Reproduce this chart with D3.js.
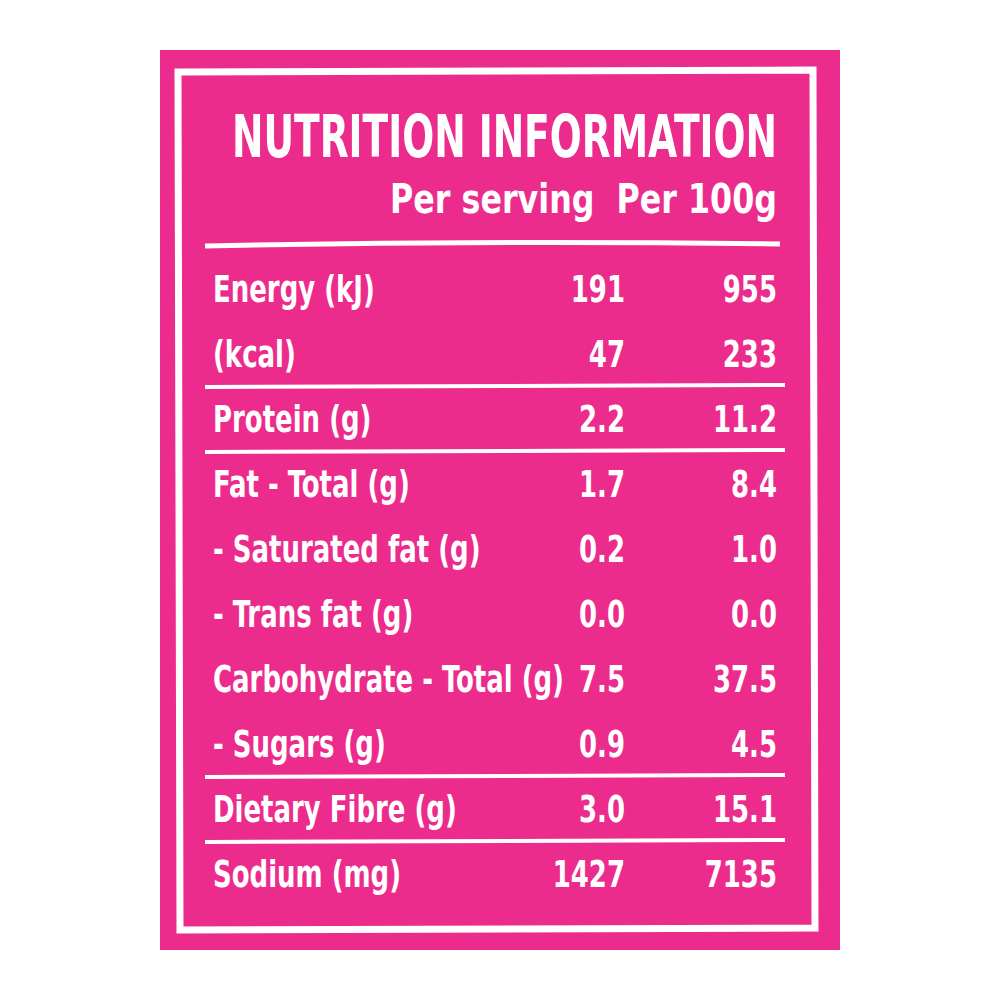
<!DOCTYPE html>
<html><head><meta charset="utf-8">
<script src="https://cdn.jsdelivr.net/npm/d3@7"></script>
<style>body{margin:0;background:#fff}</style>
</head><body>
<div id="chart"></div>
<script>
// data
var nutrients = ["Energy (kJ)", "(kcal)", "Protein (g)", "Fat - Total (g)", "- Saturated fat (g)",
  "- Trans fat (g)", "Carbohydrate - Total (g)", "- Sugars (g)", "Dietary Fibre (g)", "Sodium (mg)"];
var perServing = ["191", "47", "2.2", "1.7", "0.2", "0.0", "7.5", "0.9", "3.0", "1427"];
var per100g = ["955", "233", "11.2", "8.4", "1.0", "0.0", "37.5", "4.5", "15.1", "7135"];
var columns = ["Per serving", "Per 100g"];
// rows that get a rule below them
var ruleAfter = ["(kcal)", "Protein (g)", "- Sugars (g)", "Dietary Fibre (g)"];

var pink = "#ec2c8c";
var font = "'DejaVu Sans Condensed', 'DejaVu Sans', sans-serif";
var squeeze = 0.76;

var svg = d3.select("#chart").append("svg")
  .attr("width", 1000).attr("height", 1000);

svg.append("rect").attr("x", 160).attr("y", 50).attr("width", 680).attr("height", 900)
  .attr("fill", pink);

// hand-drawn frame
svg.append("path")
  .attr("d", "M178,72 L813,70 L815,928 L180,930 Z")
  .attr("fill", "none").attr("stroke", "#fff").attr("stroke-width", 7);

svg.append("text").attr("x", 232).attr("y", 157)
  .attr("font-family", font).attr("font-weight", "bold").attr("font-size", 58)
  .attr("textLength", 545).attr("lengthAdjust", "spacingAndGlyphs")
  .attr("fill", "#fff").text("NUTRITION INFORMATION");

var y = d3.scaleBand().domain(nutrients).range([255, 905]);
var x = d3.scaleOrdinal().domain(columns).range([625, 777]);

svg.append("text").attr("x", 390).attr("y", 213)
  .attr("font-family", font).attr("font-weight", "bold").attr("font-size", 40)
  .attr("textLength", 387).attr("lengthAdjust", "spacingAndGlyphs")
  .attr("fill", "#fff").attr("xml:space", "preserve").text(columns.join("  "));

svg.append("path").attr("d", "M205,246 Q490,240 780,244")
  .attr("stroke", "#fff").attr("stroke-width", 5).attr("fill", "none");

var rows = svg.append("g").selectAll("g").data(nutrients).enter().append("g")
  .attr("transform", function (d) { return "translate(0," + (y(d) + y.bandwidth() / 2 + 14) + ")"; })
  .attr("font-family", font).attr("font-weight", "bold").attr("font-size", 38).attr("fill", "#fff");

function cell(sel, px, anchor, fn) {
  sel.append("text")
    .attr("transform", "translate(" + px + ",0) scale(" + squeeze + ",1)")
    .attr("text-anchor", anchor).text(fn);
}
cell(rows, 213, "start", function (d) { return d; });
cell(rows, x(columns[0]), "end", function (d, i) { return perServing[i]; });
cell(rows, x(columns[1]), "end", function (d, i) { return per100g[i]; });

svg.append("g").selectAll("path").data(ruleAfter).enter().append("path")
  .attr("d", function (d) { var yy = y(d) + y.bandwidth() + 2; return "M205," + yy + " L785," + (yy - 2); })
  .attr("stroke", "#fff").attr("stroke-width", 4).attr("fill", "none");
</script>
</body></html>
